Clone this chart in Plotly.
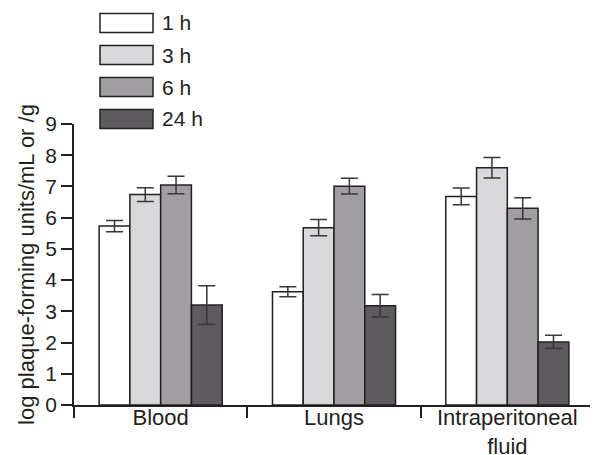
import plotly.graph_objects as go

categories = ["Blood", "Lungs", "Intraperitoneal<br>fluid"]
series_names = ["1 h", "3 h", "6 h", "24 h"]
values = {
    "1 h": [5.73, 3.63, 6.68],
    "3 h": [6.74, 5.68, 7.60],
    "6 h": [7.05, 7.01, 6.30],
    "24 h": [3.20, 3.18, 2.02],
}
errors = {
    "1 h": [0.18, 0.16, 0.27],
    "3 h": [0.22, 0.26, 0.33],
    "6 h": [0.28, 0.25, 0.34],
    "24 h": [0.62, 0.36, 0.21],
}
colors = {"1 h": "#ffffff", "3 h": "#d9d9dc", "6 h": "#a09ea3", "24 h": "#5d5b60"}
y_ticks = [0, 1, 2, 3, 4, 5, 6, 7, 8, 9]

# page body has an 8px margin; positions below are given in window pixels
OFF = 8
W, H = 598 - OFF, 455
X0, X1, Y0, Y1 = 74, 594, 124, 405  # plot area in window pixels
L, R, T, B = X0 - OFF, W - (X1 - OFF), Y0 - OFF, H - (Y1 - OFF)
INK = "#231f20"
FONT = "Liberation Sans, Arial, Helvetica, sans-serif"
FS = 21

fig = go.Figure()
for s in series_names:
    fig.add_trace(go.Bar(
        x=categories, y=values[s], name=s,
        marker=dict(color=colors[s], line=dict(color=INK, width=1.5)),
        error_y=dict(type="data", array=errors[s], color="#3a3536",
                     thickness=1.5, width=8.5),
        showlegend=False,
    ))

# custom legend (large swatches) drawn in paper coordinates
def px(x): return (x - X0) / (X1 - X0)
def py(y): return (Y1 - y) / (Y1 - Y0)
shapes, annots = [], []
for i, s in enumerate(series_names):
    cy = 23 + 32 * i
    shapes.append(dict(type="rect", xref="paper", yref="paper",
                       x0=px(100), x1=px(153), y0=py(cy - 9.5), y1=py(cy + 9.5),
                       fillcolor=colors[s], line=dict(color=INK, width=1.5)))
    annots.append(dict(xref="paper", yref="paper", x=px(160), y=py(cy),
                       xanchor="left", yanchor="middle", text=s, showarrow=False,
                       font=dict(size=FS, color=INK, family=FONT)))

fig.update_layout(
    width=W, height=H,
    margin=dict(l=L, r=R, t=T, b=B, autoexpand=False),
    paper_bgcolor="white", plot_bgcolor="white",
    barmode="group", bargap=0.29, bargroupgap=0,
    font=dict(family=FONT, size=FS, color=INK),
    shapes=shapes, annotations=annots,
    showlegend=False,
)
fig.update_xaxes(
    automargin=False,
    showline=True, linecolor=INK, linewidth=1.5,
    ticks="outside", ticklen=11, tickwidth=1.5, tickcolor=INK,
    tickson="boundaries", ticklabelstandoff=-8,
    showgrid=False, zeroline=False,
    tickfont=dict(size=22, color=INK),
)
fig.update_yaxes(
    automargin=False,
    range=[0, 9], tickvals=y_ticks,
    showline=True, linecolor=INK, linewidth=1.5,
    ticks="outside", ticklen=11, tickwidth=1.5, tickcolor=INK,
    showgrid=False, zeroline=False,
    tickfont=dict(size=FS, color=INK),
    title=dict(text="log plaque-forming units/mL or /g", standoff=5,
               font=dict(size=22, color=INK)),
)

fig.write_html("out.html")
